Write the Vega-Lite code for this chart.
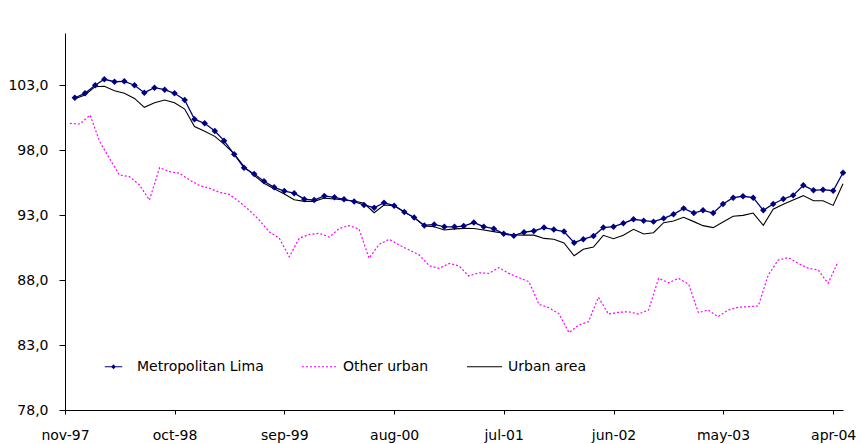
{
  "$schema": "https://vega.github.io/schema/vega-lite/v6.json",
  "width": 778,
  "height": 377,
  "autosize": {"type": "none"},
  "padding": {"left": 65, "top": 33, "right": 18, "bottom": 34},
  "background": "white",
  "data": {
    "values": [
      {"month": "1997-11", "Metropolitan Lima": 102.02, "Other urban": 100.05, "Urban area": 101.95},
      {"month": "1997-12", "Metropolitan Lima": 102.36, "Other urban": 100.0, "Urban area": 102.23},
      {"month": "1998-01", "Metropolitan Lima": 102.98, "Other urban": 100.69, "Urban area": 102.87},
      {"month": "1998-02", "Metropolitan Lima": 103.44, "Other urban": 98.64, "Urban area": 102.9},
      {"month": "1998-03", "Metropolitan Lima": 103.25, "Other urban": 97.36, "Urban area": 102.56},
      {"month": "1998-04", "Metropolitan Lima": 103.28, "Other urban": 96.08, "Urban area": 102.36},
      {"month": "1998-05", "Metropolitan Lima": 102.98, "Other urban": 95.95, "Urban area": 101.97},
      {"month": "1998-06", "Metropolitan Lima": 102.41, "Other urban": 95.31, "Urban area": 101.28},
      {"month": "1998-07", "Metropolitan Lima": 102.79, "Other urban": 94.15, "Urban area": 101.64},
      {"month": "1998-08", "Metropolitan Lima": 102.64, "Other urban": 96.64, "Urban area": 101.85},
      {"month": "1998-09", "Metropolitan Lima": 102.36, "Other urban": 96.33, "Urban area": 101.64},
      {"month": "1998-10", "Metropolitan Lima": 101.85, "Other urban": 96.21, "Urban area": 101.15},
      {"month": "1998-11", "Metropolitan Lima": 100.36, "Other urban": 95.69, "Urban area": 99.8},
      {"month": "1998-12", "Metropolitan Lima": 100.05, "Other urban": 95.26, "Urban area": 99.45},
      {"month": "1999-01", "Metropolitan Lima": 99.46, "Other urban": 95.05, "Urban area": 99.05},
      {"month": "1999-02", "Metropolitan Lima": 98.72, "Other urban": 94.74, "Urban area": 98.45},
      {"month": "1999-03", "Metropolitan Lima": 97.67, "Other urban": 94.59, "Urban area": 97.7},
      {"month": "1999-04", "Metropolitan Lima": 96.64, "Other urban": 94.03, "Urban area": 96.72},
      {"month": "1999-05", "Metropolitan Lima": 96.16, "Other urban": 93.38, "Urban area": 96.05},
      {"month": "1999-06", "Metropolitan Lima": 95.6, "Other urban": 92.62, "Urban area": 95.44},
      {"month": "1999-07", "Metropolitan Lima": 95.13, "Other urban": 91.72, "Urban area": 95.02},
      {"month": "1999-08", "Metropolitan Lima": 94.84, "Other urban": 91.21, "Urban area": 94.62},
      {"month": "1999-09", "Metropolitan Lima": 94.68, "Other urban": 89.79, "Urban area": 94.17},
      {"month": "1999-10", "Metropolitan Lima": 94.22, "Other urban": 91.21, "Urban area": 94.05},
      {"month": "1999-11", "Metropolitan Lima": 94.15, "Other urban": 91.51, "Urban area": 94.05},
      {"month": "1999-12", "Metropolitan Lima": 94.47, "Other urban": 91.59, "Urban area": 94.3},
      {"month": "2000-01", "Metropolitan Lima": 94.36, "Other urban": 91.3, "Urban area": 94.23},
      {"month": "2000-02", "Metropolitan Lima": 94.21, "Other urban": 91.97, "Urban area": 94.15},
      {"month": "2000-03", "Metropolitan Lima": 94.03, "Other urban": 92.18, "Urban area": 94.08},
      {"month": "2000-04", "Metropolitan Lima": 93.77, "Other urban": 91.92, "Urban area": 93.9},
      {"month": "2000-05", "Metropolitan Lima": 93.56, "Other urban": 89.67, "Urban area": 93.18},
      {"month": "2000-06", "Metropolitan Lima": 93.95, "Other urban": 90.74, "Urban area": 93.77},
      {"month": "2000-07", "Metropolitan Lima": 93.72, "Other urban": 91.13, "Urban area": 93.72},
      {"month": "2000-08", "Metropolitan Lima": 93.23, "Other urban": 90.69, "Urban area": 93.23},
      {"month": "2000-09", "Metropolitan Lima": 92.81, "Other urban": 90.31, "Urban area": 92.8},
      {"month": "2000-10", "Metropolitan Lima": 92.2, "Other urban": 89.92, "Urban area": 92.16},
      {"month": "2000-11", "Metropolitan Lima": 92.27, "Other urban": 89.1, "Urban area": 92.1},
      {"month": "2000-12", "Metropolitan Lima": 92.09, "Other urban": 88.9, "Urban area": 91.85},
      {"month": "2001-01", "Metropolitan Lima": 92.09, "Other urban": 89.28, "Urban area": 91.93},
      {"month": "2001-02", "Metropolitan Lima": 92.15, "Other urban": 89.08, "Urban area": 91.97},
      {"month": "2001-03", "Metropolitan Lima": 92.42, "Other urban": 88.31, "Urban area": 91.96},
      {"month": "2001-04", "Metropolitan Lima": 92.1, "Other urban": 88.56, "Urban area": 91.85},
      {"month": "2001-05", "Metropolitan Lima": 91.95, "Other urban": 88.51, "Urban area": 91.72},
      {"month": "2001-06", "Metropolitan Lima": 91.55, "Other urban": 88.95, "Urban area": 91.59},
      {"month": "2001-07", "Metropolitan Lima": 91.41, "Other urban": 88.51, "Urban area": 91.46},
      {"month": "2001-08", "Metropolitan Lima": 91.68, "Other urban": 88.18, "Urban area": 91.45},
      {"month": "2001-09", "Metropolitan Lima": 91.77, "Other urban": 87.87, "Urban area": 91.45},
      {"month": "2001-10", "Metropolitan Lima": 92.03, "Other urban": 86.13, "Urban area": 91.2},
      {"month": "2001-11", "Metropolitan Lima": 91.88, "Other urban": 85.87, "Urban area": 91.13},
      {"month": "2001-12", "Metropolitan Lima": 91.73, "Other urban": 85.4, "Urban area": 90.85},
      {"month": "2002-01", "Metropolitan Lima": 90.87, "Other urban": 83.95, "Urban area": 89.86},
      {"month": "2002-02", "Metropolitan Lima": 91.14, "Other urban": 84.54, "Urban area": 90.37},
      {"month": "2002-03", "Metropolitan Lima": 91.38, "Other urban": 84.79, "Urban area": 90.54},
      {"month": "2002-04", "Metropolitan Lima": 92.03, "Other urban": 86.67, "Urban area": 91.44},
      {"month": "2002-05", "Metropolitan Lima": 92.1, "Other urban": 85.38, "Urban area": 91.18},
      {"month": "2002-06", "Metropolitan Lima": 92.36, "Other urban": 85.51, "Urban area": 91.44},
      {"month": "2002-07", "Metropolitan Lima": 92.67, "Other urban": 85.56, "Urban area": 91.9},
      {"month": "2002-08", "Metropolitan Lima": 92.56, "Other urban": 85.38, "Urban area": 91.54},
      {"month": "2002-09", "Metropolitan Lima": 92.49, "Other urban": 85.69, "Urban area": 91.64},
      {"month": "2002-10", "Metropolitan Lima": 92.74, "Other urban": 88.13, "Urban area": 92.41},
      {"month": "2002-11", "Metropolitan Lima": 93.05, "Other urban": 87.79, "Urban area": 92.54},
      {"month": "2002-12", "Metropolitan Lima": 93.51, "Other urban": 88.13, "Urban area": 92.82},
      {"month": "2003-01", "Metropolitan Lima": 93.15, "Other urban": 87.67, "Urban area": 92.49},
      {"month": "2003-02", "Metropolitan Lima": 93.36, "Other urban": 85.49, "Urban area": 92.18},
      {"month": "2003-03", "Metropolitan Lima": 93.15, "Other urban": 85.69, "Urban area": 92.03},
      {"month": "2003-04", "Metropolitan Lima": 93.85, "Other urban": 85.18, "Urban area": 92.46},
      {"month": "2003-05", "Metropolitan Lima": 94.33, "Other urban": 85.69, "Urban area": 92.9},
      {"month": "2003-06", "Metropolitan Lima": 94.44, "Other urban": 85.9, "Urban area": 92.97},
      {"month": "2003-07", "Metropolitan Lima": 94.33, "Other urban": 85.95, "Urban area": 93.15},
      {"month": "2003-08", "Metropolitan Lima": 93.36, "Other urban": 86.0, "Urban area": 92.21},
      {"month": "2003-09", "Metropolitan Lima": 93.85, "Other urban": 88.38, "Urban area": 93.44},
      {"month": "2003-10", "Metropolitan Lima": 94.23, "Other urban": 89.54, "Urban area": 93.82},
      {"month": "2003-11", "Metropolitan Lima": 94.51, "Other urban": 89.72, "Urban area": 94.15},
      {"month": "2003-12", "Metropolitan Lima": 95.28, "Other urban": 89.28, "Urban area": 94.49},
      {"month": "2004-01", "Metropolitan Lima": 94.9, "Other urban": 88.9, "Urban area": 94.1},
      {"month": "2004-02", "Metropolitan Lima": 94.95, "Other urban": 88.77, "Urban area": 94.1},
      {"month": "2004-03", "Metropolitan Lima": 94.87, "Other urban": 87.74, "Urban area": 93.74},
      {"month": "2004-04", "Metropolitan Lima": 96.25, "Other urban": 89.41, "Urban area": 95.41}
    ]
  },
  "transform": [
    {"fold": ["Metropolitan Lima", "Other urban", "Urban area"], "as": ["series", "index"]}
  ],
  "encoding": {
    "x": {
      "field": "month",
      "timeUnit": "utcyearmonth",
      "type": "temporal",
      "bandPosition": 1,
      "title": null,
      "scale": {
        "type": "utc",
        "domain": [
          {"year": 1997, "month": 11, "date": 1, "utc": true},
          {"year": 2004, "month": 5, "date": 1, "utc": true}
        ]
      },
      "axis": {
        "values": [
          {"year": 1997, "month": 11, "date": 1, "utc": true},
          {"year": 1998, "month": 10, "date": 1, "utc": true},
          {"year": 1999, "month": 9, "date": 1, "utc": true},
          {"year": 2000, "month": 8, "date": 1, "utc": true},
          {"year": 2001, "month": 7, "date": 1, "utc": true},
          {"year": 2002, "month": 6, "date": 1, "utc": true},
          {"year": 2003, "month": 5, "date": 1, "utc": true},
          {"year": 2004, "month": 4, "date": 1, "utc": true}
        ],
        "labelExpr": "lower(utcFormat(datum.value, '%b-%y'))",
        "tickSize": 4,
        "labelPadding": 14
      }
    },
    "y": {
      "field": "index",
      "type": "quantitative",
      "title": null,
      "scale": {"domain": [78, 107], "nice": false, "zero": false},
      "axis": {
        "values": [78, 83, 88, 93, 98, 103],
        "labelExpr": "replace(format(datum.value, '.1f'), '.', ',')",
        "tickSize": 6,
        "labelPadding": 11
      }
    },
    "color": {
      "field": "series",
      "type": "nominal",
      "title": null,
      "scale": {
        "domain": ["Metropolitan Lima", "Other urban", "Urban area"],
        "range": ["#000080", "#ff00ff", "#000000"]
      },
      "legend": {
        "orient": "none",
        "legendX": 30,
        "legendY": 315,
        "direction": "horizontal",
        "columns": 3,
        "padding": 0,
        "symbolType": "stroke",
        "symbolSize": 1225,
        "symbolStrokeWidth": 1.2,
        "labelOffset": 5,
        "columnPadding": 35,
        "labelFont": "DejaVu Sans",
        "labelFontSize": 14,
        "labelColor": "#000000",
        "labelLimit": 0,
        "encode": {
          "symbols": {
            "update": {
              "shape": {"signal": "datum.value === 'Metropolitan Lima' ? 'M-0.5,0H0.5M0,-0.09L0.09,0L0,0.09L-0.09,0Z' : 'stroke'"},
              "fill": {"signal": "datum.value === 'Metropolitan Lima' ? '#000080' : 'transparent'"},
              "strokeDash": {"signal": "datum.value === 'Other urban' ? [2, 2] : [1, 0]"}
            }
          }
        }
      }
    }
  },
  "layer": [
    {
      "transform": [{"filter": "datum.series === 'Other urban'"}],
      "mark": {"type": "line", "strokeWidth": 1.2, "strokeDash": [2, 2]},
      "encoding": {
        "x": {"field": "month", "timeUnit": "utcyearmonth", "type": "temporal", "bandPosition": 0.5, "title": null}
      }
    },
    {
      "transform": [{"filter": "datum.series === 'Urban area'"}],
      "mark": {"type": "line", "strokeWidth": 1.1}
    },
    {
      "transform": [{"filter": "datum.series === 'Metropolitan Lima'"}],
      "mark": {"type": "line", "strokeWidth": 1.3}
    },
    {
      "transform": [{"filter": "datum.series === 'Metropolitan Lima'"}],
      "mark": {"type": "point", "shape": "diamond", "filled": true, "size": 42, "opacity": 1},
      "encoding": {"color": {"value": "#000080"}}
    }
  ],
  "config": {
    "view": {"stroke": null},
    "axis": {
      "grid": false,
      "domainColor": "#000000",
      "domainWidth": 1,
      "tickColor": "#000000",
      "tickWidth": 1,
      "labelColor": "#000000",
      "labelFont": "DejaVu Sans",
      "labelFontSize": 14,
      "labelFlush": false,
      "labelOverlap": false
    }
  }
}
